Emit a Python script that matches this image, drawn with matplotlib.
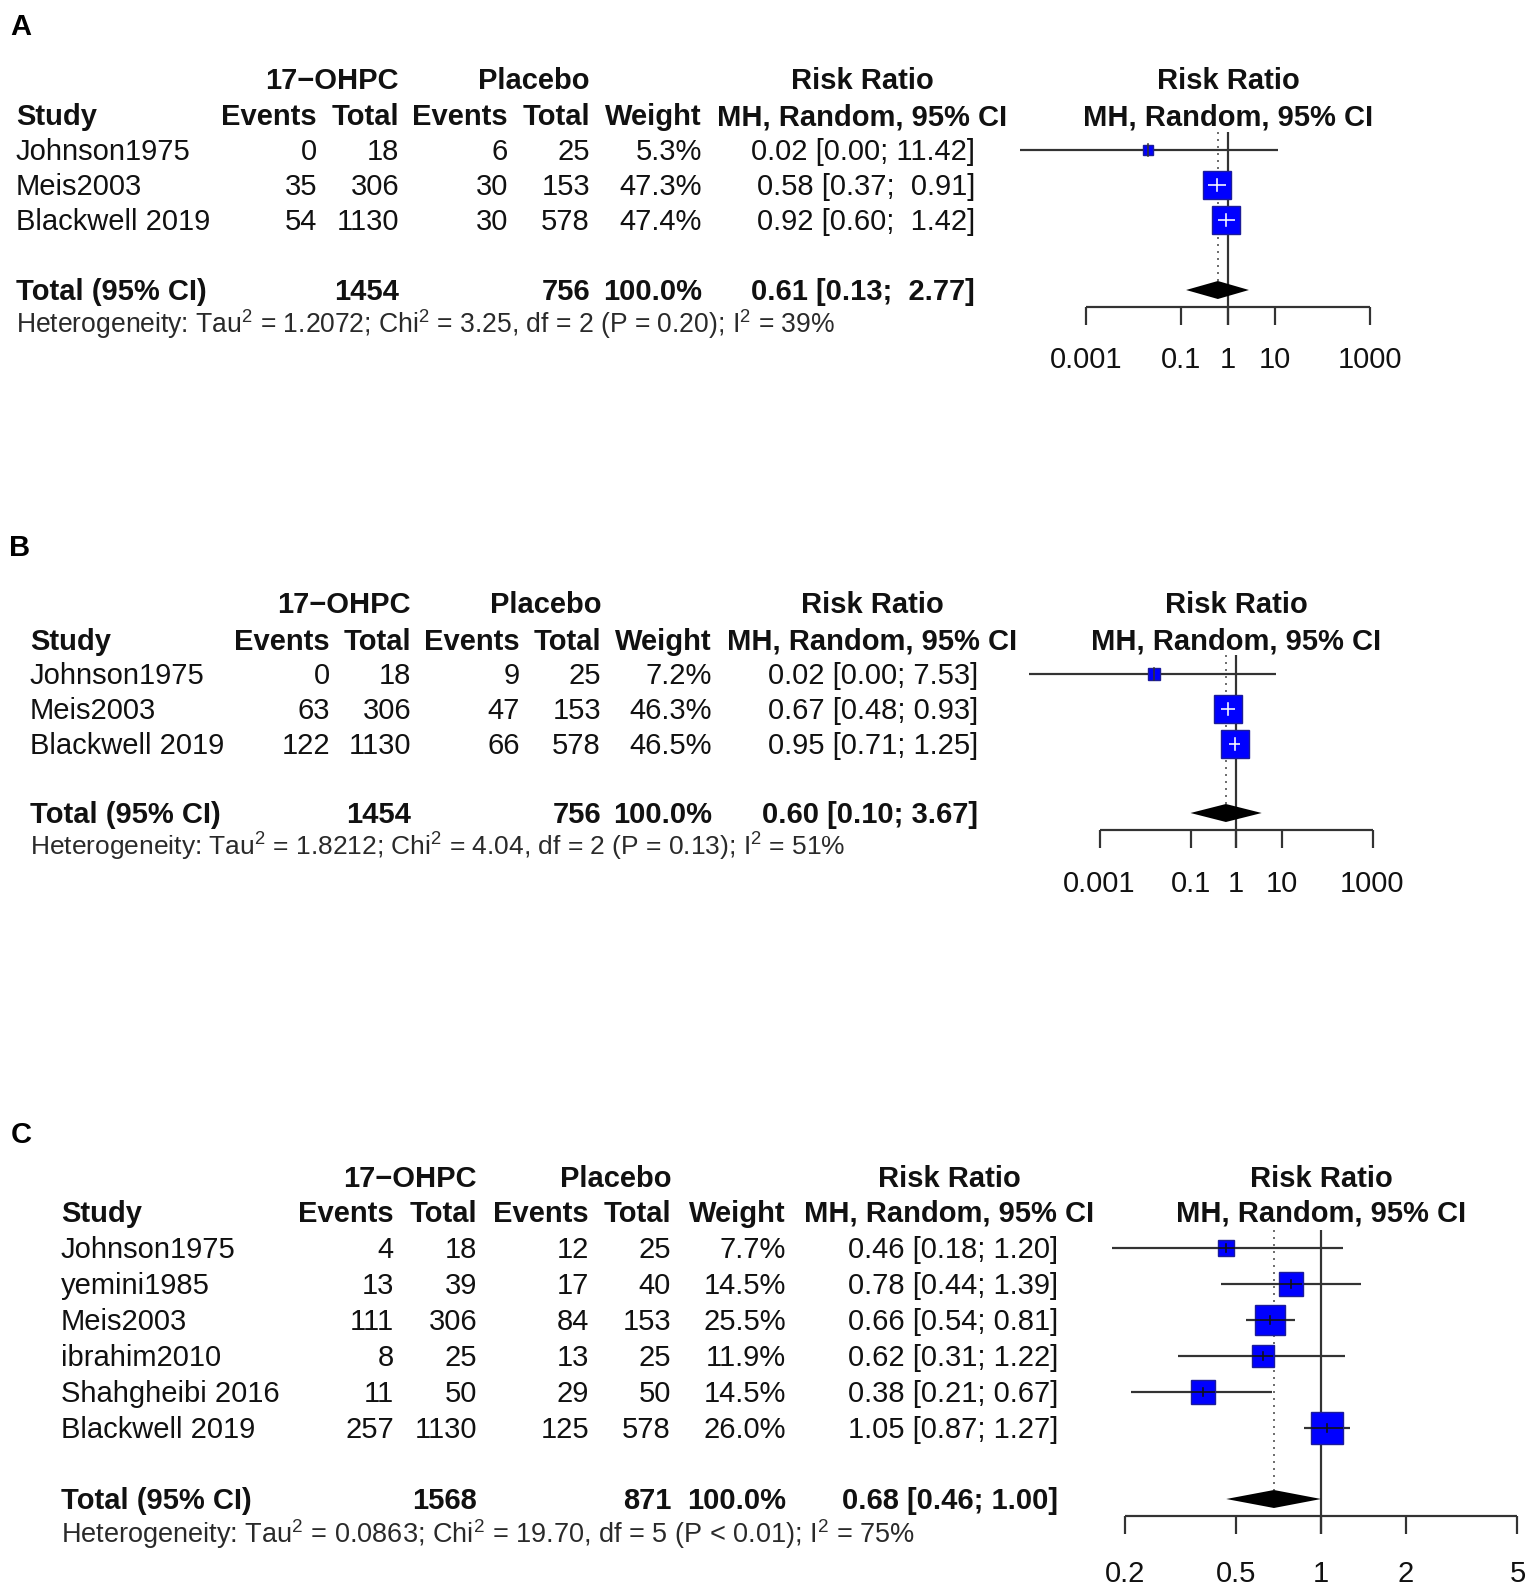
import matplotlib
matplotlib.use("Agg")
import matplotlib.pyplot as plt
import numpy as np

plt.rcParams['font.family'] = ['Liberation Sans', 'DejaVu Sans']
plt.rcParams['mathtext.fontset'] = 'custom'
plt.rcParams['mathtext.rm'] = 'Liberation Sans'
plt.rcParams['mathtext.it'] = 'Liberation Sans:italic'
plt.rcParams['mathtext.bf'] = 'Liberation Sans:bold'

# ---------------- data ----------------
studies_A = ["Johnson1975", "Meis2003", "Blackwell 2019"]
ev1_A = [0, 35, 54]
n1_A = [18, 306, 1130]
ev2_A = [6, 30, 30]
n2_A = [25, 153, 578]
weight_A = [5.3, 47.3, 47.4]
rr_A = [0.02, 0.58, 0.92]
lo_A = [4.0e-5, 0.37, 0.60]
hi_A = [11.42, 0.91, 1.42]
pooled_A = [0.61, 0.13, 2.77]
totals_A = [1454, 756]
het_A = "Heterogeneity: Tau$^2$ = 1.2072; Chi$^2$ = 3.25, df = 2 (P = 0.20); I$^2$ = 39%"
ticks_A = [0.001, 0.1, 1, 10, 1000]
ticklabels_A = ["0.001", "0.1", "1", "10", "1000"]

studies_B = ["Johnson1975", "Meis2003", "Blackwell 2019"]
ev1_B = [0, 63, 122]
n1_B = [18, 306, 1130]
ev2_B = [9, 47, 66]
n2_B = [25, 153, 578]
weight_B = [7.2, 46.3, 46.5]
rr_B = [0.016, 0.67, 0.95]
lo_B = [2.8e-5, 0.48, 0.71]
hi_B = [7.53, 0.93, 1.25]
pooled_B = [0.60, 0.10, 3.67]
totals_B = [1454, 756]
het_B = "Heterogeneity: Tau$^2$ = 1.8212; Chi$^2$ = 4.04, df = 2 (P = 0.13); I$^2$ = 51%"
ticks_B = [0.001, 0.1, 1, 10, 1000]
ticklabels_B = ["0.001", "0.1", "1", "10", "1000"]

studies_C = ["Johnson1975", "yemini1985", "Meis2003", "ibrahim2010",
             "Shahgheibi 2016", "Blackwell 2019"]
ev1_C = [4, 13, 111, 8, 11, 257]
n1_C = [18, 39, 306, 25, 50, 1130]
ev2_C = [12, 17, 84, 13, 29, 125]
n2_C = [25, 40, 153, 25, 50, 578]
weight_C = [7.7, 14.5, 25.5, 11.9, 14.5, 26.0]
rr_C = [0.46, 0.78, 0.66, 0.62, 0.38, 1.05]
lo_C = [0.18, 0.44, 0.54, 0.31, 0.21, 0.87]
hi_C = [1.20, 1.39, 0.81, 1.22, 0.67, 1.27]
pooled_C = [0.68, 0.46, 1.00]
totals_C = [1568, 871]
het_C = "Heterogeneity: Tau$^2$ = 0.0863; Chi$^2$ = 19.70, df = 5 (P < 0.01); I$^2$ = 75%"
ticks_C = [0.2, 0.5, 1, 2, 5]
ticklabels_C = ["0.2", "0.5", "1", "2", "5"]

# ---------------- layout (pixels) ----------------
W, H = 1535, 1586
DPI = 100
FS = 21
BASE = 10  # baseline offset below visual centre

panels = [
    dict(label="A", lab_xy=(10, 25), study_x=16, cols=[317, 399, 508, 590, 702, 975],
         ci_hdr=862, hdr1=79, hdr2=115, row0=150, dy=35, total_y=290, het_y=325, het_w=820,
         one=1228, dec=47.3, axis_y=307, lab_y=358, ref_top=132, kbox=4.2, inner='white',
         f_left=990, f_right=1420,
         data=(studies_A, ev1_A, n1_A, ev2_A, n2_A, weight_A, rr_A, lo_A, hi_A,
               pooled_A, totals_A, het_A, ticks_A, ticklabels_A)),
    dict(label="B", lab_xy=(9, 546), study_x=30, cols=[330, 411, 520, 601, 712, 978],
         ci_hdr=872, hdr1=603, hdr2=640, row0=674, dy=35, total_y=813, het_y=848, het_w=816,
         one=1236, dec=45.5, axis_y=830, lab_y=882, ref_top=655, kbox=4.2, inner='white',
         f_left=1000, f_right=1420,
         data=(studies_B, ev1_B, n1_B, ev2_B, n2_B, weight_B, rr_B, lo_B, hi_B,
               pooled_B, totals_B, het_B, ticks_B, ticklabels_B)),
    dict(label="C", lab_xy=(11, 1133), study_x=61, cols=[394, 477, 589, 671, 786, 1058],
         ci_hdr=949, hdr1=1177, hdr2=1212, row0=1248, dy=36, total_y=1499, het_y=1535, het_w=852,
         one=1321, dec=281.0, axis_y=1516, lab_y=1572, ref_top=1230, kbox=6.1, inner='black',
         f_left=1080, f_right=1535,
         data=(studies_C, ev1_C, n1_C, ev2_C, n2_C, weight_C, rr_C, lo_C, hi_C,
               pooled_C, totals_C, het_C, ticks_C, ticklabels_C)),
]

fig = plt.figure(figsize=(W / DPI, H / DPI), dpi=DPI)
tx = fig.add_axes([0, 0, 1, 1])
tx.set_xlim(0, W)
tx.set_ylim(H, 0)
tx.axis('off')
renderer = fig.canvas.get_renderer()

TXT = '#111111'
LINE = '#333333'
PX2PT = 72.0 / DPI


def put(x, y, s, ha='right', bold=False, size=FS, **kw):
    return tx.text(x, y + BASE, s, ha=ha, va='baseline', fontsize=size,
                   fontweight='bold' if bold else 'normal', color=TXT, **kw)


for P in panels:
    (studies, ev1, n1, ev2, n2, wts, rr, lo, hi, pooled, totals, het,
     ticks, ticklabels) = P['data']
    c = P['cols']
    # panel label
    tx.text(P['lab_xy'][0], P['lab_xy'][1] + 10, P['label'], ha='left', va='baseline',
            fontsize=21, fontweight='bold', color='black')
    # headers
    put(c[1], P['hdr1'], "17\u2212OHPC", bold=True)
    put(c[3], P['hdr1'], "Placebo", bold=True)
    put(P['ci_hdr'], P['hdr1'], "Risk Ratio", ha='center', bold=True)
    put(P['study_x'], P['hdr2'], "Study", ha='left', bold=True)
    put(c[0], P['hdr2'], "Events", bold=True)
    put(c[1], P['hdr2'], "Total", bold=True)
    put(c[2], P['hdr2'], "Events", bold=True)
    put(c[3], P['hdr2'], "Total", bold=True)
    put(c[4], P['hdr2'], "Weight", bold=True)
    put(P['ci_hdr'], P['hdr2'], "MH, Random, 95% CI", ha='center', bold=True)

    # CI strings with R-like padding
    hi_all = [f"{v:.2f}" for v in list(hi) + [pooled[2]]]
    wid = max(len(s) for s in hi_all)

    def cistr(e, l, h):
        return f"{e:.2f} [{l:.2f}; {f'{h:.2f}'.rjust(wid)}]"

    for i, name in enumerate(studies):
        y = P['row0'] + i * P['dy']
        put(P['study_x'], y, name, ha='left')
        put(c[0], y, str(ev1[i]))
        put(c[1], y, str(n1[i]))
        put(c[2], y, str(ev2[i]))
        put(c[3], y, str(n2[i]))
        put(c[4], y, f"{wts[i]:.1f}%")
        put(c[5], y, cistr(rr[i], lo[i], hi[i]))
    ty = P['total_y']
    put(P['study_x'], ty, "Total (95% CI)", ha='left', bold=True)
    put(c[1], ty, str(totals[0]), bold=True)
    put(c[3], ty, str(totals[1]), bold=True)
    put(c[4], ty, "100.0%", bold=True)
    put(c[5], ty, cistr(*pooled), bold=True)

    # heterogeneity line, fitted to the measured width
    t = tx.text(P['study_x'], P['het_y'] + 8, het, ha='left', va='baseline',
                fontsize=18, color='#2a2a2a')
    bw = t.get_window_extent(renderer).width
    t.set_fontsize(18 * P['het_w'] / bw)

    # -------- forest axes --------
    one, dec = P['one'], P['dec']
    L, R = P['f_left'], P['f_right']
    fa = fig.add_axes([L / W, 0, (R - L) / W, 1])
    fa.set_xscale('log')
    fa.set_xlim(10 ** ((L - one) / dec), 10 ** ((R - one) / dec))
    fa.set_ylim(H, 0)
    fa.axis('off')
    fa.patch.set_alpha(0)

    fa.text(1, P['hdr1'] + BASE, "Risk Ratio", ha='center', va='baseline',
            fontsize=FS, fontweight='bold', color=TXT)
    fa.text(1, P['hdr2'] + BASE, "MH, Random, 95% CI", ha='center', va='baseline',
            fontsize=FS, fontweight='bold', color=TXT)

    ticklen = 18
    dh = 9
    lw = 2.2 * PX2PT
    # reference line at 1
    fa.plot([1, 1], [P['ref_top'], P['axis_y'] + ticklen], color=LINE, lw=lw,
            solid_capstyle='butt', zorder=2)
    # pooled dotted line
    fa.plot([pooled[0], pooled[0]], [P['ref_top'], ty - dh], color='#707070',
            lw=2.0 * PX2PT, ls=(0, (1, 2.5)), zorder=1)
    # axis
    fa.plot([ticks[0], ticks[-1]], [P['axis_y'], P['axis_y']], color=LINE, lw=lw,
            solid_capstyle='butt', zorder=2)
    for tk, tl in zip(ticks, ticklabels):
        fa.plot([tk, tk], [P['axis_y'], P['axis_y'] + ticklen], color=LINE, lw=lw,
                solid_capstyle='butt', zorder=2)
        fa.text(tk, P['lab_y'] + BASE, tl, ha='center', va='baseline', fontsize=FS,
                color=TXT)

    # studies
    for i in range(len(studies)):
        y = P['row0'] + i * P['dy']
        side = P['kbox'] * np.sqrt(wts[i])
        half_dec = (side / 2) / dec
        bx_lo = rr[i] / 10 ** half_dec
        bx_hi = rr[i] * 10 ** half_dec
        fa.plot([lo[i], hi[i]], [y, y], color=LINE, lw=lw, zorder=3,
                solid_capstyle='butt')
        fa.plot([rr[i]], [y], marker='s', ms=side * PX2PT, mfc='#0000ff',
                mec='#1c1c9a', mew=1.0, ls='none', zorder=4)
        inside = (lo[i] >= bx_lo) and (hi[i] <= bx_hi)
        if P['inner'] == 'black':
            col = '#111111'
        else:
            col = 'white' if inside else LINE
        if inside or P['inner'] == 'black':
            fa.plot([max(lo[i], bx_lo), min(hi[i], bx_hi)], [y, y], color=col,
                    lw=1.6 * PX2PT, zorder=5, solid_capstyle='butt')
        vt = 4 if P['inner'] == 'black' else 6
        fa.plot([rr[i], rr[i]], [y - vt, y + vt], color=col, lw=1.6 * PX2PT, zorder=5)

    # diamond
    e, l, h = pooled
    fa.fill([l, e, h, e], [ty, ty - dh, ty, ty + dh], color='black', zorder=4, lw=0)

fig.savefig("out.png", dpi=DPI)
